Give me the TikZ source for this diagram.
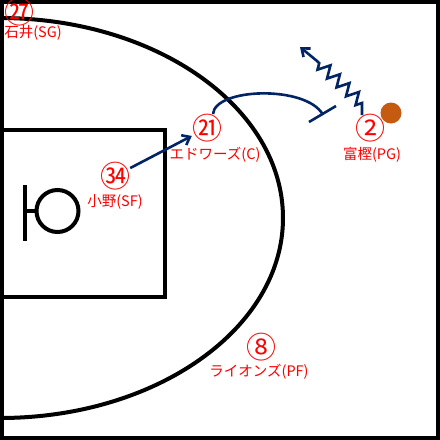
\documentclass[tikz,border=0pt]{standalone}
\usepackage{fontspec}
\setmainfont{Noto Sans CJK JP}
\usetikzlibrary{arrows.meta,decorations.pathmorphing}

\definecolor{navyline}{RGB}{0,36,100}
\definecolor{ballorange}{RGB}{197,90,17}

\tikzset{
  court/.style   = {draw=black, line width=4pt},
  plnum/.style   = {text=red, font=\fontsize{30}{30}\selectfont, inner sep=0pt},
  plname/.style  = {text=red, font=\fontsize{14.5}{15}\selectfont, inner sep=0pt},
  move/.style    = {draw=navyline, line width=2.6pt, -{Straight Barb[length=7pt,width=11pt]}},
  screen/.style  = {draw=navyline, line width=2.6pt}
}

\begin{document}
\begin{tikzpicture}
[
x=1pt, y=-1pt
  ]
\useasboundingbox (0,0) rectangle (440,440);
\fill[white] (0,0) rectangle (440,440);

% court
\begin{scope}
\clip (0,0) rectangle (440,440);
\draw[court] (0,18) arc[start angle=-90, end angle=90, x radius=283, y radius=200];
\draw[court] (0,130) rectangle (165,297);
\draw[court] (25,185) -- (25,241);
\draw[court] (25,211) -- (36.5,211);
\draw[court] (57.5,211) circle (21);
\draw[court] (2,2) rectangle (438,438);
\end{scope}

% players
\node[plnum] (p27) at (20,12) {㉗};
\node[plname] (p27name) at (33,33) {石井(SG)};
\node[plnum] (p21) at (207,128) {㉑};
\node[plname] (p21name) at (215,155) {エドワーズ(C)};
\node[plnum] (p2) at (370,128) {②};
\node[plname] (p2name) at (372,155) {富樫(PG)};
\node[plnum] (p34) at (115,176) {㉞};
\node[plname] (p34name) at (115,202) {小野(SF)};
\node[plnum] (p8) at (261,347) {⑧};
\node[plname] (p8name) at (259,372) {ライオンズ(PF)};

% ball
\fill[ballorange] (391,113) circle (10.5);

% moves
\draw[move] (p34) -- (p21);
\coordinate (scr) at (322.5,114);
\draw[screen] (213,114) .. controls (215,88) and (305,85) .. (scr);
\draw[screen] ([shift={(-13.5,8)}]scr) -- ([shift={(13.5,-8)}]scr);
\coordinate (drive) at (362,115);
\draw[move] (drive) -- (362,103)
  decorate[decoration={zigzag, segment length=13pt, amplitude=6pt}] {-- (317,61)}
  -- (300,47);
\end{tikzpicture}
\end{document}
